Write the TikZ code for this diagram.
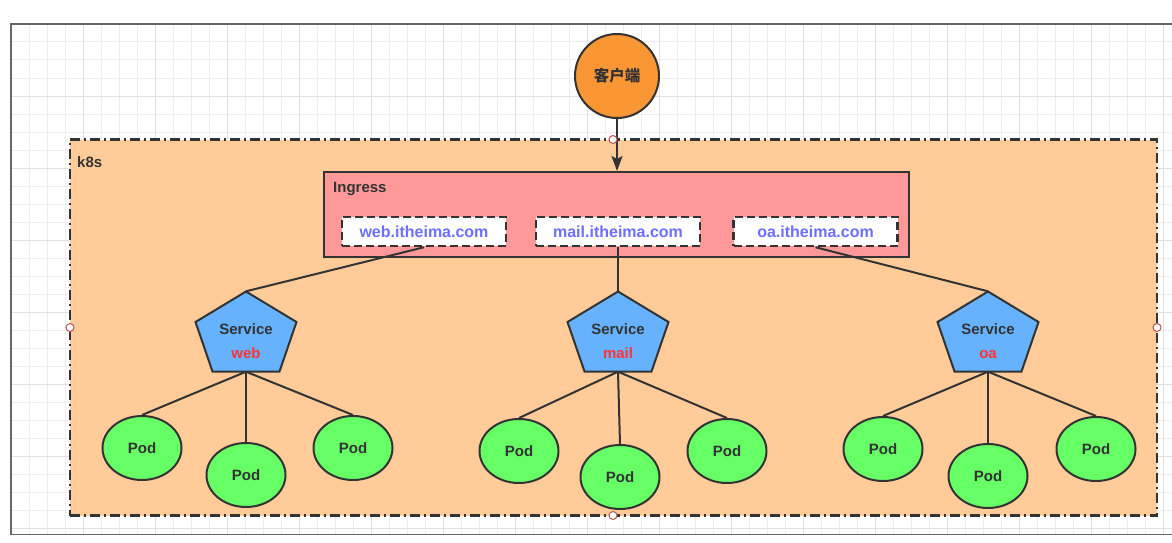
\documentclass[tikz,border=0pt]{standalone}
\usepackage{fontspec}
\setmainfont{Liberation Sans}
\newfontfamily\cjk{Noto Sans CJK SC}
\usetikzlibrary{arrows.meta,calc,shapes.geometric}
\definecolor{gridminor}{HTML}{EDEDED}
\definecolor{gridmajor}{HTML}{E0E0E0}
\definecolor{framec}{HTML}{666666}
\definecolor{ink}{HTML}{333333}
\definecolor{orangec}{HTML}{FA9634}
\definecolor{peach}{HTML}{FFCC99}
\definecolor{pinkc}{HTML}{FF9999}
\definecolor{bluec}{HTML}{66B2FF}
\definecolor{greenc}{HTML}{66FF66}
\definecolor{hostc}{HTML}{6E6EFF}
\definecolor{redc}{HTML}{FF3333}
\definecolor{handlec}{HTML}{B85450}
\begin{document}
\begin{tikzpicture}[x=1pt,y=-1pt,
  lbl/.style={font=\fontsize{15}{18}\selectfont\bfseries, text=ink, inner sep=0},
  k8sbox/.style={draw=ink, fill=peach, line width=2.5, dash pattern=on 10 off 4 on 2 off 4, minimum width=1087, minimum height=376, inner sep=0},
  clientnode/.style={circle, fill=orangec, draw=ink, line width=2, minimum size=84, inner sep=0, font=\cjk\bfseries\fontsize{15.5}{18}\selectfont, text=ink},
  ingbox/.style={rectangle, fill=pinkc, draw=ink, line width=2, minimum width=585, minimum height=85, inner sep=0},
  hostbox/.style={rectangle, fill=white, draw=ink, line width=2.5, dash pattern=on 8 off 4, minimum width=164, minimum height=29, inner sep=0, text=hostc, font=\fontsize{16}{19}\selectfont\bfseries},
  svcframe/.style={minimum width=101, minimum height=80, inner sep=0},
  svcshape/.style={fill=bluec, draw=ink, line width=2, line join=miter},
  svctext/.style={lbl, align=center},
  podnode/.style={ellipse, fill=greenc, draw=ink, line width=2, minimum width=79, minimum height=64, inner sep=0, font=\fontsize{15}{18}\selectfont\bfseries, text=ink},
  conn/.style={draw=ink, line width=2},
  arrowconn/.style={draw=ink, line width=2, -{Stealth[length=15,width=11,inset=3]}},
  handle/.style={circle, draw=handlec, fill=white, line width=1, minimum size=8, inner sep=0}
]
\useasboundingbox (0,0) rectangle (1172,543);
% grid
\begin{scope}
  \clip (11,24) rectangle (1172,534);
  \foreach \i in {0,...,64} \draw[gridminor, line width=1] ({11+18*\i},24) -- ({11+18*\i},534);
  \foreach \j in {0,...,28} \draw[gridminor, line width=1] (11,{24+18*\j}) -- (1172,{24+18*\j});
  \foreach \i in {0,...,16} \draw[gridmajor, line width=1] ({11+72*\i},24) -- ({11+72*\i},534);
  \foreach \j in {0,...,7} \draw[gridmajor, line width=1] (11,{24+72*\j}) -- (1172,{24+72*\j});
\end{scope}
% frame
\draw[framec, line width=1.5] (1180,24) -- (11,24) -- (11,534.5) -- (1180,534.5);
% k8s container
\node[k8sbox] (k8s) at (613.5,327.5) {};
\node[lbl, anchor=west] (k8slbl) at (77,162) {k8s};
% client
\node[clientnode] (client) at (617,76) {客户端};
% ingress
\node[ingbox] (ing) at (616.5,214.5) {};
\node[lbl, anchor=west] (inglbl) at (333,189) {Ingress};
\node[hostbox] (hw) at (424,231.5) {web.itheima.com};
\node[hostbox] (hm) at (618,231.5) {mail.itheima.com};
\node[hostbox] (ho) at (815.5,231.5) {oa.itheima.com};
% services
\foreach \n/\x/\t in {sw/246/web, sm/618/mail, so/988/oa}{
  \draw[svcshape] (\x,291.5) -- ({\x+50.5},322) -- ({\x+33.5},371.5) -- ({\x-33.5},371.5) -- ({\x-50.5},322) -- cycle;
  \node[svcframe] (\n) at (\x,331.5) {};
  \node[svctext] (\n l) at (\x,341) {Service\\[6.5pt]{\color{redc}\t}};
}
% pods
\node[podnode] (pw1) at (142,448) {Pod};
\node[podnode] (pw2) at (246,475) {Pod};
\node[podnode] (pw3) at (353,448) {Pod};
\node[podnode] (pm1) at (519,451) {Pod};
\node[podnode] (pm2) at (620,477) {Pod};
\node[podnode] (pm3) at (727,451) {Pod};
\node[podnode] (po1) at (883,449) {Pod};
\node[podnode] (po2) at (988,476) {Pod};
\node[podnode] (po3) at (1096,449) {Pod};
% connectors
\draw[arrowconn] (client.south) -- (client.south |- ing.north);
\draw[conn] (hw.south) -- (sw.north);
\draw[conn] (hm.south) -- (sm.north);
\draw[conn] (ho.south) -- (so.north);
\foreach \s/\p in {sw/pw1, sw/pw2, sw/pw3, sm/pm1, sm/pm2, sm/pm3, so/po1, so/po2, so/po3}
  \draw[conn] (\s.south) -- (\p.north);
% handles
\node[handle] (h1) at (613,139.5) {};
\node[handle] (h2) at (613,515.5) {};
\node[handle] (h3) at (70,327.5) {};
\node[handle] (h4) at (1157,327.5) {};
\end{tikzpicture}
\end{document}
